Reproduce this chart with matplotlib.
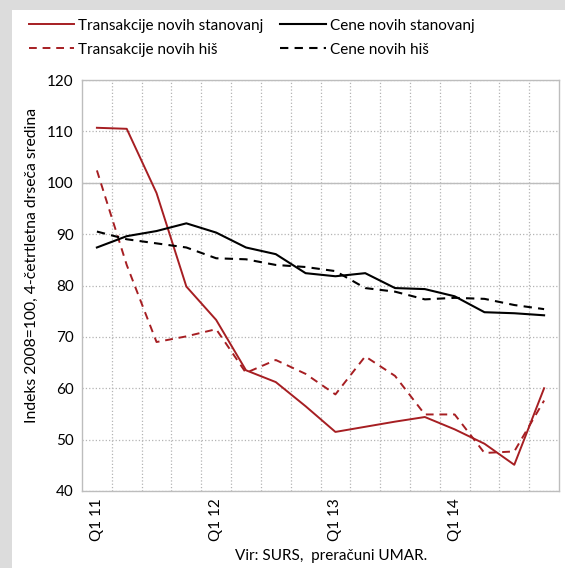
import numpy as np
import matplotlib.pyplot as plt
from matplotlib.patches import Rectangle

plt.rcParams['font.family'] = ['Lato', 'DejaVu Sans']

quarters = ['Q1 11', 'Q2 11', 'Q3 11', 'Q4 11',
            'Q1 12', 'Q2 12', 'Q3 12', 'Q4 12',
            'Q1 13', 'Q2 13', 'Q3 13', 'Q4 13',
            'Q1 14', 'Q2 14', 'Q3 14', 'Q4 14']

trans_stanovanj = [110.7, 110.5, 98.0, 79.8, 73.3, 63.5, 61.2, 56.5,
                   51.5, 52.5, 53.5, 54.4, 52.0, 49.2, 45.1, 60.0]
trans_his = [102.4, 84.0, 69.0, 70.1, 71.5, 63.0, 65.5, 62.8,
             58.8, 66.2, 62.4, 54.9, 54.9, 47.4, 47.7, 57.6]
cene_stanovanj = [87.4, 89.6, 90.6, 92.1, 90.3, 87.4, 86.1, 82.4,
                  81.8, 82.4, 79.5, 79.3, 77.9, 74.8, 74.6, 74.2]
cene_his = [90.5, 89.0, 88.2, 87.4, 85.3, 85.1, 84.0, 83.6,
            82.8, 79.5, 78.8, 77.3, 77.6, 77.4, 76.2, 75.4]

red = '#a61e22'

fig = plt.figure(figsize=(5.65, 5.68), dpi=100)
fig.patch.set_facecolor('#dcdcdc')
fig.patches.append(Rectangle((12 / 565, 0), 1, 1 - 10 / 568, transform=fig.transFigure,
                             facecolor='white', edgecolor='none', zorder=-5))

ax = fig.add_axes([82 / 565, 1 - 491 / 568, (559 - 82) / 565, (491 - 80) / 568])
ax.set_facecolor('white')
x = np.arange(len(quarters))

l1, = ax.plot(x, trans_stanovanj, color=red, lw=1.4, label='Transakcije novih stanovanj')
l2, = ax.plot(x, trans_his, color=red, lw=1.4, ls=(0, (4, 3)), label='Transakcije novih hiš')
l3, = ax.plot(x, cene_stanovanj, color='black', lw=1.5, label='Cene novih stanovanj')
l4, = ax.plot(x, cene_his, color='black', lw=1.5, ls=(0, (4, 3)), label='Cene novih hiš')

ax.set_xlim(-0.5, len(quarters) - 0.5)
ax.set_ylim(40, 120)
ax.set_yticks(np.arange(40, 121, 10))
ax.set_xticks(x[::4])
ax.set_xticklabels(quarters[::4], rotation=90)
ax.set_xticks(np.arange(0.5, len(quarters) - 0.5), minor=True)
ax.tick_params(which='both', length=0, labelsize=11, colors='black')
ax.tick_params(axis='y', pad=6)
ax.tick_params(axis='x', pad=5)

ax.grid(axis='x', which='minor', color='#b4b4b4', ls=':', lw=0.9)
ax.grid(axis='y', which='major', color='#b4b4b4', ls=':', lw=0.9)
ax.axhline(100, color='#bdbdbd', lw=1.0, zorder=1)
for s in ax.spines.values():
    s.set_color('#bdbdbd')
    s.set_linewidth(1.0)
ax.set_axisbelow(True)

ax.set_ylabel('Indeks 2008=100, 4-četrtletna drseča sredina', fontsize=11.3)
ax.yaxis.set_label_coords(-0.091, 0.55)

fig.legend([l1, l2, l3, l4], [l.get_label() for l in (l1, l2, l3, l4)],
           ncol=2, frameon=False, loc='upper left', bbox_to_anchor=(15 / 565, 1 - 5 / 568),
           fontsize=11, handlelength=2.95, handletextpad=0.3, columnspacing=1.1,
           labelspacing=0.65)

fig.text(331 / 565, 1 - 556 / 568, 'Vir: SURS,  preračuni UMAR.', ha='center', va='center',
         fontsize=11)

fig.savefig('out.png', dpi=100, facecolor=fig.get_facecolor())
